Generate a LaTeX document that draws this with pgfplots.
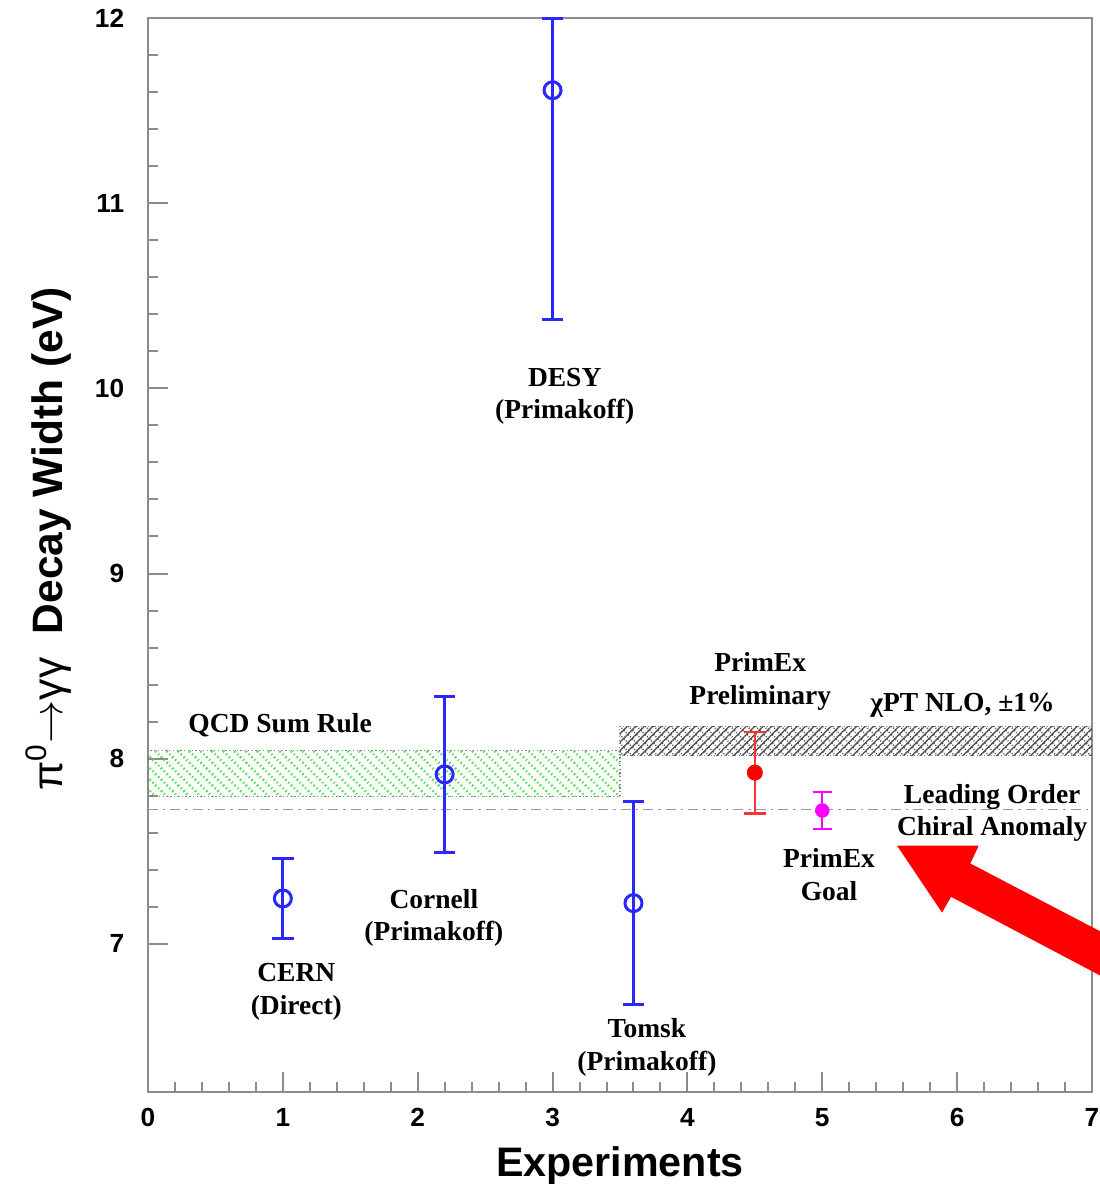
\documentclass[border=0pt]{standalone}
\usepackage{fontspec}
\setmainfont{Liberation Serif}
\setsansfont{Liberation Sans}
\usepackage{pgfplots}
\pgfplotsset{compat=1.18}
\usetikzlibrary{patterns.meta}
\definecolor{ptblue}{RGB}{40,40,255}
\definecolor{qcdgreen}{RGB}{80,225,80}
\definecolor{axgray}{RGB}{140,140,140}
\definecolor{hatchgray}{RGB}{80,80,80}
\definecolor{goalmag}{RGB}{255,0,255}
\tikzset{lbl/.style={font=\bfseries\fontsize{11}{13}\selectfont, align=center, black}}

\begin{document}
\begin{tikzpicture}
\begin{axis}[
 at={(0,0)}, anchor=south west,
 scale only axis, width=377.6pt, height=429.6pt,
 xmin=0, xmax=7, ymin=6.2, ymax=12,
 xtick={0,...,7}, ytick={7,...,12},
 minor x tick num=4, minor y tick num=4,
 xtick pos=left, ytick pos=left,
 tick align=inside,
 major tick length=8pt, minor tick length=4pt,
 axis line style={axgray, line width=0.8pt},
 every tick/.style={axgray, line width=0.8pt},
 /pgf/number format/assume math mode=true,
 tick label style={font=\sffamily\bfseries\fontsize{10.5}{12}\selectfont},
 yticklabel style={xshift=-6pt},
 xticklabel style={yshift=-3pt},
 xlabel={Experiments},
 xlabel style={at={(axis description cs:0.5,-0.0791)}, anchor=base, font=\sffamily\bfseries\fontsize{16.5}{19}\selectfont},
 ylabel={π\textsuperscript{0}$\rightarrow$γγ\ \ {\bfseries Decay Width (eV)}},
 ylabel style={at={(axis description cs:-0.0911,0.515)}, anchor=base, font=\sffamily\fontsize{17}{20}\selectfont},
 clip=false,
]
% QCD sum rule band
\addplot[draw=gray, densely dotted, line width=0.5pt,
  pattern={Lines[angle=-45,distance=3.2pt,line width=1pt]}, pattern color=qcdgreen]
  coordinates {(0,7.795) (3.5,7.795) (3.5,8.043) (0,8.043) (0,7.795)};
% chiPT NLO band
\addplot[draw=none,
  pattern={Lines[angle=45,distance=2.4pt,line width=0.55pt]}, pattern color=hatchgray]
  coordinates {(3.5,8.015) (7,8.015) (7,8.175) (3.5,8.175) (3.5,8.015)};
\addplot[draw=gray, densely dotted, line width=0.4pt,
  pattern={Lines[angle=-45,distance=2.4pt,line width=0.55pt]}, pattern color=hatchgray]
  coordinates {(3.5,8.015) (7,8.015) (7,8.175) (3.5,8.175) (3.5,8.015)};
% leading order
\addplot[gray!80, line width=0.6pt, dash pattern=on 4pt off 2pt on 1pt off 2pt]
  coordinates {(0,7.725) (7,7.725)};
% previous experiments
\addplot[ptblue, line width=1.2pt, only marks, mark=o, mark size=3.4pt,
  mark options={fill=white, solid, line width=1.2pt},
  error bars/.cd, y dir=both, y explicit,
  error bar style={line width=1.2pt},
  error mark options={rotate=90, mark size=4.3pt, line width=1.2pt}]
  coordinates {
   (1,7.245) += (0,0.215) -= (0,0.215)
   (2.2,7.915) += (0,0.42) -= (0,0.42)
   (3,11.61) += (0,0.39) -= (0,1.24)
   (3.6,7.22) += (0,0.55) -= (0,0.55)
  };
% PrimEx preliminary
\addplot[red, line width=0.8pt, only marks, mark=*, mark size=2.8pt,
  error bars/.cd, y dir=both, y explicit,
  error bar style={line width=0.9pt, red!80},
  error mark options={rotate=90, mark size=4.4pt, line width=1pt}]
  coordinates {(4.5,7.925) +- (0,0.22)};
% PrimEx goal
\addplot[goalmag, line width=0.8pt, only marks, mark=*, mark size=2.5pt,
  error bars/.cd, y dir=both, y explicit,
  error bar style={line width=0.8pt},
  error mark options={rotate=90, mark size=3.9pt, line width=0.8pt}]
  coordinates {(5,7.72) +- (0,0.10)};
% labels
\node[lbl] at (axis cs:0.98,8.18) {QCD Sum Rule};
\node[lbl] at (axis cs:1.10,6.74) {CERN\\(Direct)};
\node[lbl] at (axis cs:2.12,7.14) {Cornell\\(Primakoff)};
\node[lbl] at (axis cs:3.09,9.957) {DESY\\(Primakoff)};
\node[lbl] at (axis cs:3.70,6.44) {Tomsk\\(Primakoff)};
\node[lbl] at (axis cs:4.54,8.416) {PrimEx\\Preliminary};
\node[lbl] at (axis cs:6.04,8.286) {χPT NLO, ±1\%};
\node[lbl] at (axis cs:6.26,7.708) {Leading Order\\Chiral Anomaly};
\node[lbl] at (axis cs:5.05,7.373) {PrimEx\\Goal};
% arrow
\fill[red] (axis cs:5.555,7.530) -- (axis cs:6.160,7.530) -- (axis cs:6.098,7.434)
  -- (axis cs:7.360,6.954) -- (axis cs:7.360,6.714) -- (axis cs:5.955,7.254)
  -- (axis cs:5.888,7.169) -- cycle;
\end{axis}
\pgfresetboundingbox
\useasboundingbox (-59.2pt,-36.8pt) rectangle (380.4pt,436.8pt);
\end{tikzpicture}
\end{document}
